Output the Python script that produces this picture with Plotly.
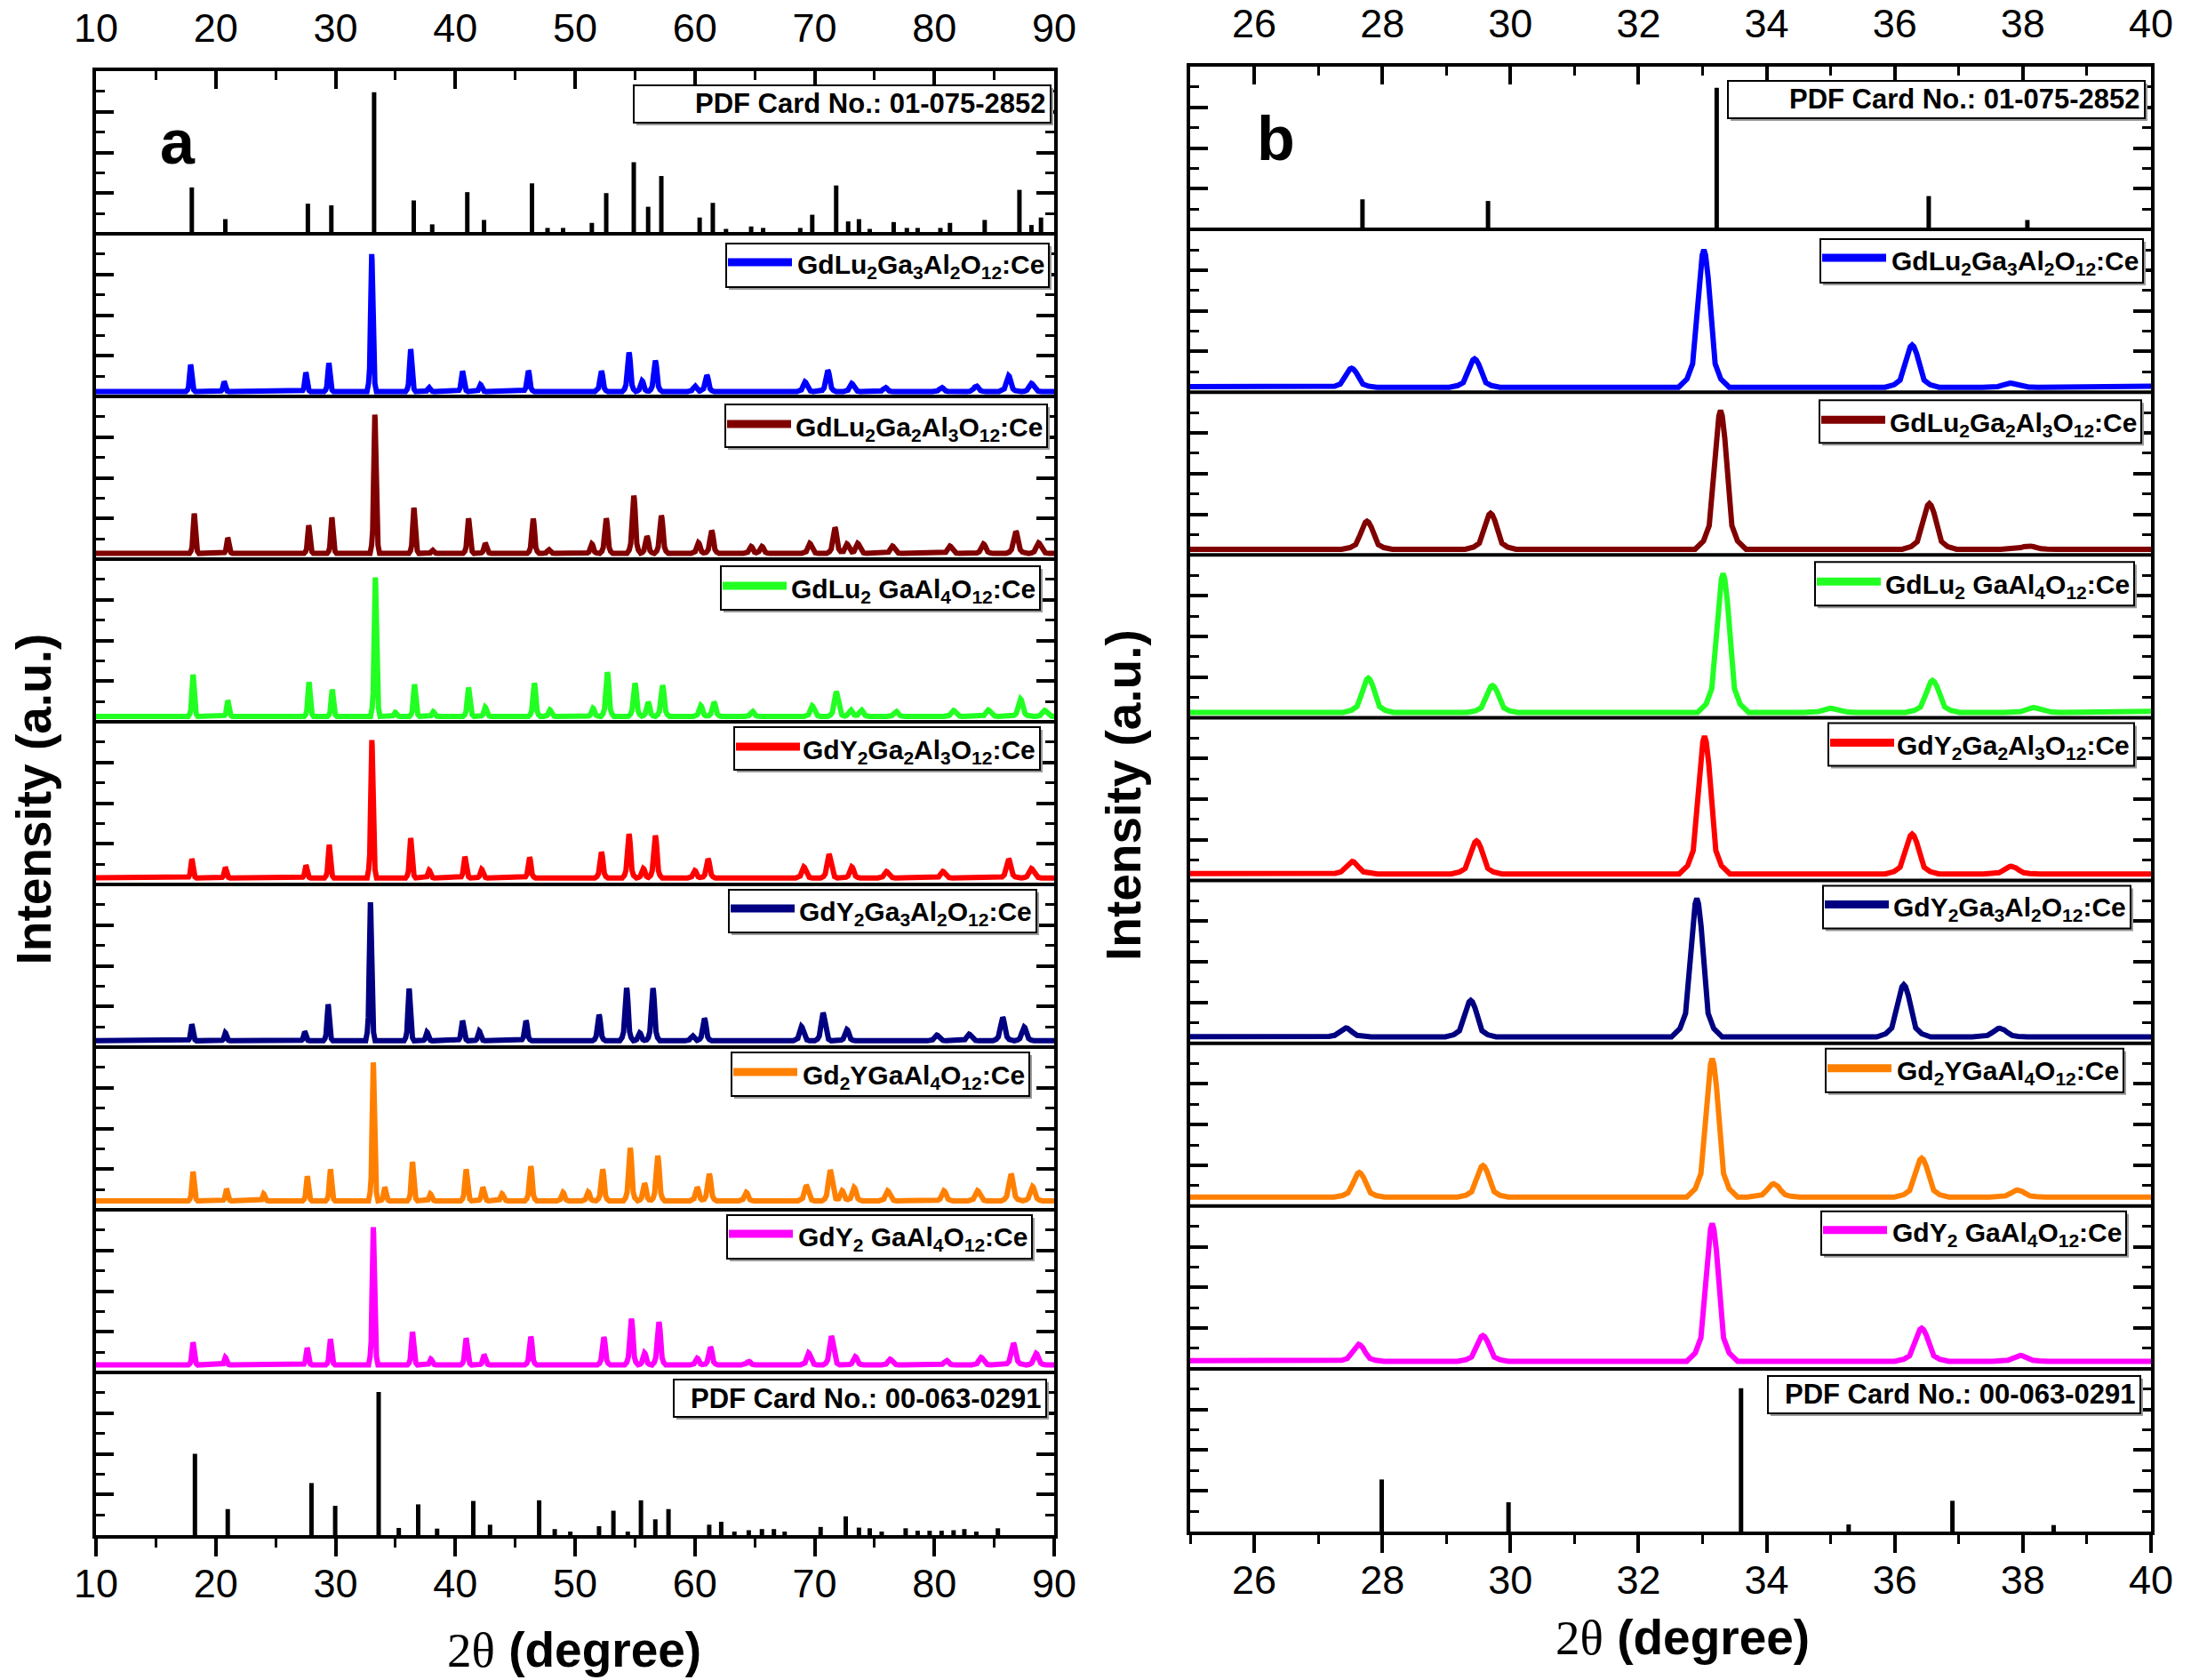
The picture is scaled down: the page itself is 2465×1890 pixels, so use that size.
import numpy as np
import plotly.graph_objects as go

W, H = 2465, 1890
OFF = 8  # the page body adds an 8 px margin; positions below are screen pixels
FONT = "Liberation Sans, Arial, sans-serif"

# ---------------- data ----------------
# PDF card 01-075-2852 (stick pattern): 2theta, relative height (% of sub-panel)
CARD1_POS = [18.0, 20.8, 27.69, 29.65, 33.22, 36.53, 38.07, 41.0, 42.4, 46.4, 47.7, 49.0, 51.4,
             52.6, 54.9, 56.1, 57.2, 60.4, 61.5, 62.6, 64.7, 65.7, 68.8, 69.8, 71.8, 72.8, 73.7,
             74.6, 76.6, 77.7, 78.6, 80.5, 81.3, 84.2, 87.1, 88.1, 88.9]
CARD1_HT = [28.5, 9, 18.5, 17.5, 87, 20.5, 5.8, 25.6, 8.5, 31, 3.6, 3.6, 6.7,
            25, 44, 16.6, 35.5, 10, 19, 3, 4.5, 3.6, 3.6, 11.7, 29.7, 7.6, 9,
            3, 7.2, 3.6, 3.6, 3.6, 6.7, 8.5, 27, 5.4, 10]

# PDF card 00-063-0291
CARD2_POS = [18.26, 21.0, 27.99, 29.97, 33.6, 35.28, 36.9, 38.48, 41.5, 42.9, 47.0, 48.3, 49.6,
             52.0, 53.2, 54.4, 55.5, 56.7, 57.8, 61.2, 62.2, 63.3, 64.5, 65.6, 66.6, 67.5, 70.5,
             72.6, 73.7, 74.6, 75.6, 77.6, 78.6, 79.6, 80.6, 81.6, 82.5, 83.5, 85.3]
CARD2_HT = [50, 16, 32, 18, 88, 4.4, 18.9, 4, 21, 6.4, 21.4, 3.7, 2.2,
            5.5, 15, 2.2, 21.4, 9.7, 16, 6.4, 8.2, 2.2, 3, 3.7, 3.7, 2.2, 5,
            11.5, 4.6, 4.2, 2.2, 4.2, 2.7, 2.7, 2.7, 3, 3.7, 2.2, 4.2]

# measured patterns: peak positions (2theta) and peak tops (% of sub-panel), baseline level
BLUE_POS = [17.9, 20.7, 27.52, 29.44, 33.02, 36.27, 37.8, 40.6, 42.1, 46.1, 52.2, 54.5, 55.6, 56.7,
            60.0, 61.0, 69.2, 71.1, 73.1, 75.9, 80.6, 83.5, 86.2, 88.1]
BLUE_HT = [19.5, 9, 14.7, 20.5, 87.5, 29, 5.5, 15.5, 7.3, 15.8, 15.5, 27, 9.6, 22,
           6.4, 13, 9, 16, 8, 5.5, 5.5, 6.4, 12.7, 8]
BLUE_BASE = 3.0

BROWN_POS = [18.2, 21.0, 27.76, 29.69, 33.28, 36.54, 38.09, 41.1, 42.5, 46.5, 47.8, 51.4, 52.6, 54.9,
             56.0, 57.2, 60.3, 61.4, 64.7, 65.6, 69.6, 71.7, 72.7, 73.6, 76.5, 81.3, 84.1, 86.8, 88.7]
BROWN_HT = [28, 13, 20.7, 25.6, 88.8, 31.6, 5.5, 25, 9.7, 24.8, 5.8, 9.3, 25, 39,
            14, 26.8, 10, 17.5, 7.8, 7.8, 9.7, 19.4, 9.3, 9.7, 8, 8, 9.3, 17, 10]
BROWN_BASE = 3.5

GREEN_POS = [18.1, 21.0, 27.78, 29.72, 33.32, 34.99, 36.59, 38.16, 41.1, 42.5, 46.6, 47.9, 51.5, 52.7,
             55.0, 56.1, 57.3, 60.5, 61.6, 64.8, 69.8, 71.8, 73.0, 73.9, 76.8, 81.6, 84.5, 87.2, 89.2]
GREEN_HT = [29, 13, 24.3, 19.8, 88.7, 5.8, 22.9, 6.2, 21, 9, 23.7, 7.3, 8.3, 30.5,
            23.7, 12, 22.4, 10, 12, 6.4, 9.8, 18.5, 7.3, 7.3, 6.4, 7, 7.3, 14, 7]
GREEN_BASE = 3.3

RED_POS = [18.0, 20.8, 27.53, 29.47, 33.03, 36.27, 37.82, 40.8, 42.2, 46.2, 52.2, 54.5, 55.7, 56.7,
           60.0, 61.1, 69.1, 71.2, 73.1, 76.0, 80.7, 86.2, 88.1]
RED_HT = [15.6, 10.4, 11.7, 24.3, 88.7, 28.5, 8.7, 17, 9.3, 16.6, 19.9, 31, 9.8, 30,
          8.5, 15.6, 10.8, 18.5, 10.8, 8, 8, 15.6, 9.8]
RED_BASE = 4.0

NAVY_POS = [18.0, 20.8, 27.43, 29.38, 32.91, 36.14, 37.64, 40.6, 42.0, 45.9, 52.0, 54.3, 55.4, 56.5,
            59.8, 60.8, 68.9, 70.7, 72.7, 80.2, 82.9, 85.7, 87.5]
NAVY_HT = [13.9, 8.8, 9.4, 26.3, 89, 36, 9.2, 16.2, 9.8, 16.2, 19.8, 36.4, 8.8, 36.2,
           7, 17.6, 12.7, 21, 10.8, 7.4, 8, 18.2, 12.3]
NAVY_BASE = 3.9

ORANGE_POS = [18.1, 20.9, 24.0, 27.64, 29.57, 33.15, 34.11, 36.42, 37.92, 40.9, 42.3, 43.9, 46.3, 49.0,
              51.1, 52.3, 54.6, 55.8, 56.9, 60.2, 61.2, 64.3, 69.3, 71.3, 72.3, 73.3, 76.1, 80.8,
              83.6, 86.4, 88.2]
ORANGE_HT = [23.4, 12.7, 9.8, 20.6, 24.9, 90.6, 13.7, 29.4, 9.8, 24.8, 13.7, 9.8, 26.8, 10.7,
             11, 24.8, 38, 16.2, 33.2, 13.7, 22, 10.7, 15, 24.4, 11.7, 13.7, 11.7, 11.7,
             11.7, 22, 14.3]
ORANGE_BASE = 5.5

MAGENTA_POS = [18.1, 20.8, 27.63, 29.57, 33.15, 36.42, 37.96, 40.9, 42.4, 46.3, 52.4, 54.7, 55.8,
               57.0, 60.2, 61.3, 64.5, 69.5, 71.4, 73.4, 76.3, 81.0, 83.9, 86.6, 88.5]
MAGENTA_HT = [18.4, 9.3, 15, 20.4, 89.3, 24.9, 8.2, 21, 10.7, 22, 21.7, 33, 12,
              31, 8.7, 15.5, 6.8, 12, 22.3, 9.7, 8.2, 7.4, 9.3, 17.9, 11.7]
MAGENTA_BASE = 4.6

# peak shape (offset in FWHM units, fraction of peak height)
PROFILE_DX = [-1.8, -1.2, -0.8, -0.5, -0.3, -0.12, 0.0, 0.12, 0.3, 0.5, 0.8, 1.2, 1.8]
PROFILE_FRAC = [0.0, 0.06, 0.17, 0.5, 0.8, 0.96, 1.0, 0.96, 0.8, 0.5, 0.17, 0.06, 0.0]
FWHM_33 = 0.22          # degrees, at ~33 deg
FWHM_GROWTH = 50.0      # broadening with angle

SAMPLES = [
    ("GdLu<sub>2</sub>Ga<sub>3</sub>Al<sub>2</sub>O<sub>12</sub>:Ce", "#0000FF", BLUE_POS, BLUE_HT, BLUE_BASE),
    ("GdLu<sub>2</sub>Ga<sub>2</sub>Al<sub>3</sub>O<sub>12</sub>:Ce", "#800000", BROWN_POS, BROWN_HT, BROWN_BASE),
    ("GdLu<sub>2</sub> GaAl<sub>4</sub>O<sub>12</sub>:Ce", "#22FF22", GREEN_POS, GREEN_HT, GREEN_BASE),
    ("GdY<sub>2</sub>Ga<sub>2</sub>Al<sub>3</sub>O<sub>12</sub>:Ce", "#FF0000", RED_POS, RED_HT, RED_BASE),
    ("GdY<sub>2</sub>Ga<sub>3</sub>Al<sub>2</sub>O<sub>12</sub>:Ce", "#000080", NAVY_POS, NAVY_HT, NAVY_BASE),
    ("Gd<sub>2</sub>YGaAl<sub>4</sub>O<sub>12</sub>:Ce", "#FF8000", ORANGE_POS, ORANGE_HT, ORANGE_BASE),
    ("GdY<sub>2</sub> GaAl<sub>4</sub>O<sub>12</sub>:Ce", "#FF00FF", MAGENTA_POS, MAGENTA_HT, MAGENTA_BASE),
]
CARD1_LABEL = "PDF Card No.: 01-075-2852"
CARD2_LABEL = "PDF Card No.: 00-063-0291"

# ---------------- layout geometry (screen pixels) ----------------
PANELS = [
    dict(L=108, R=1186, T=80, B=1727, xr=[10, 90], dt=10, mdt=5, label="a", lab_xy=(200, 160),
         ytitle_x=37, xtitle_x=646, xtitle_y=1856),
    dict(L=1339, R=2420, T=75, B=1723, xr=[25, 40], dt=2, mdt=1, label="b", lab_xy=(1435, 156),
         ytitle_x=1264, xtitle_x=1893, xtitle_y=1842),
]
# legend boxes relative to (panel left, row top): x0, x1, y0, y1, line y
BOX_CARD1 = (605, 1074, 16, 58)
BOX_CARD2 = (650, 1069, 8, 50)
BOX_SAMPLES = [(709, 1072, 11, 60, 32), (708, 1070, 9, 57, 31), (703, 1062, 8, 57, 30),
               (718, 1062, 6, 54, 28), (712, 1058, 6, 54, 27), (715, 1050, 6, 55, 28),
               (710, 1053, 6, 55, 27)]
LINE_LEN = 72


def fx(p):
    return (p - OFF) / W


def fy(p):
    return 1 - (p - OFF) / H


def curve(pos, ht, base, xr):
    pos = np.asarray(pos, float)
    ht = np.asarray(ht, float)
    xs = [xr[0] - 1]
    for p in pos:
        w = FWHM_33 * (1 + max(p - 33, 0) / FWHM_GROWTH)
        xs.extend(p + np.asarray(PROFILE_DX) * w)
    xs.append(xr[1] + 1)
    xs = np.sort(np.asarray(xs))
    ys = np.full_like(xs, base)
    for p, h in zip(pos, ht):
        w = FWHM_33 * (1 + max(p - 33, 0) / FWHM_GROWTH)
        ys += (h - base) * np.interp((xs - p) / w, PROFILE_DX, PROFILE_FRAC, left=0, right=0)
    return xs, ys


def sticks(pos, ht):
    xs, ys = [], []
    for p, h in zip(pos, ht):
        xs += [p, p, None]
        ys += [0, h, None]
    return xs, ys


fig = go.Figure()
layout = dict(width=W, height=H, margin=dict(l=0, r=0, t=0, b=0, autoexpand=False),
              paper_bgcolor="white", plot_bgcolor="rgba(0,0,0,0)", showlegend=False,
              hovermode=False, font=dict(family=FONT, color="black"))
shapes, annotations = [], []

for pi, P in enumerate(PANELS):
    L, R, T, B = P["L"], P["R"], P["T"], P["B"]
    rh = (B - T) / 9.0
    xb = "x" if pi == 0 else "x3"
    xbkey = "xaxis" if pi == 0 else "xaxis3"
    xtkey = "xaxis2" if pi == 0 else "xaxis4"
    yidx0 = 1 + 9 * pi

    for r in range(9):
        yi = yidx0 + r
        ykey = "yaxis" if yi == 1 else f"yaxis{yi}"
        yref = "y" if yi == 1 else f"y{yi}"
        top = T + r * rh
        bot = T + (r + 1) * rh
        layout[ykey] = dict(domain=[fy(bot), fy(top)], anchor=xb, range=[0, 100], fixedrange=True,
                            showline=True, linewidth=4, linecolor="black", mirror="ticks",
                            ticks="inside", ticklen=20, tickwidth=4, tickcolor="black",
                            tick0=0, dtick=25, showticklabels=False, showgrid=False, zeroline=False,
                            minor=dict(ticks="inside", ticklen=10, tickwidth=3, tickcolor="black",
                                       dtick=12.5, tick0=0, showgrid=False))
        if r == 0:
            xs, ys = sticks(CARD1_POS, CARD1_HT)
            fig.add_trace(go.Scatter(x=xs, y=ys, mode="lines", xaxis=xb, yaxis=yref,
                                     line=dict(color="black", width=5)))
        elif r == 8:
            xs, ys = sticks(CARD2_POS, CARD2_HT)
            fig.add_trace(go.Scatter(x=xs, y=ys, mode="lines", xaxis=xb, yaxis=yref,
                                     line=dict(color="black", width=5)))
        else:
            name, col, pos, ht, base = SAMPLES[r - 1]
            xs, ys = curve(pos, ht, base, P["xr"])
            fig.add_trace(go.Scatter(x=xs, y=ys, mode="lines", xaxis=xb, yaxis=yref,
                                     line=dict(color=col, width=6)))

        # internal boundary line
        if r > 0:
            shapes.append(dict(type="line", xref="paper", yref="paper", x0=fx(L), x1=fx(R),
                               y0=fy(top), y1=fy(top), line=dict(color="black", width=4),
                               layer="above"))
        # legend boxes
        if r == 0 or r == 8:
            bx0, bx1, by0, by1 = BOX_CARD1 if r == 0 else BOX_CARD2
            lab = CARD1_LABEL if r == 0 else CARD2_LABEL
        else:
            bx0, bx1, by0, by1, ly = BOX_SAMPLES[r - 1]
            lab = SAMPLES[r - 1][0]
        shapes.append(dict(type="rect", xref="paper", yref="paper",
                           x0=fx(L + bx0 + 3), x1=fx(L + bx1 + 3), y0=fy(top + by1 + 3), y1=fy(top + by0 + 3),
                           fillcolor="#9a9a9a", line=dict(width=0), layer="above"))
        shapes.append(dict(type="rect", xref="paper", yref="paper",
                           x0=fx(L + bx0), x1=fx(L + bx1), y0=fy(top + by1), y1=fy(top + by0),
                           fillcolor="white", line=dict(color="black", width=2), layer="above"))
        if r in (0, 8):
            annotations.append(dict(x=fx(L + bx1 - 3), y=fy(top + (by0 + by1) / 2), xref="paper", yref="paper",
                                    text="<b>" + lab + "</b>", showarrow=False, xanchor="right",
                                    yanchor="middle", font=dict(size=31, family=FONT, color="black")))
        else:
            col = SAMPLES[r - 1][1]
            shapes.append(dict(type="line", xref="paper", yref="paper", x0=fx(L + bx0 + 2),
                               x1=fx(L + bx0 + 2 + LINE_LEN), y0=fy(top + ly), y1=fy(top + ly),
                               line=dict(color=col, width=9), layer="above"))
            annotations.append(dict(x=fx(L + bx1 - 3), y=fy(top + ly + 5), xref="paper", yref="paper",
                                    text="<b>" + lab + "</b>", showarrow=False, xanchor="right",
                                    yanchor="middle", font=dict(size=30, family=FONT, color="black")))

    common_x = dict(domain=[fx(L), fx(R)], range=P["xr"], fixedrange=True, showline=True,
                    linewidth=4, linecolor="black", tick0=0, dtick=P["dt"], tickcolor="black",
                    tickwidth=4, ticklen=20, showgrid=False, zeroline=False,
                    tickfont=dict(size=45, family=FONT, color="black"))
    layout[xbkey] = dict(common_x, anchor=("y9" if pi == 0 else "y18"), side="bottom", ticks="outside",
                         ticklabelstandoff=-8,
                         minor=dict(ticks="outside", ticklen=10, tickwidth=3, tickcolor="black",
                                    dtick=P["mdt"], tick0=0, showgrid=False))
    layout[xtkey] = dict(common_x, anchor=("y" if pi == 0 else "y10"), side="top", ticks="inside",
                         overlaying=xb, ticklabelstandoff=11,
                         minor=dict(ticks="inside", ticklen=10, tickwidth=3, tickcolor="black",
                                    dtick=P["mdt"], tick0=0, showgrid=False))

    # texts
    annotations.append(dict(x=fx(P["lab_xy"][0]), y=fy(P["lab_xy"][1]), xref="paper", yref="paper",
                            text="<b>" + P["label"] + "</b>", showarrow=False, xanchor="center",
                            yanchor="middle", font=dict(size=70, family=FONT, color="black")))
    annotations.append(dict(x=fx(P["ytitle_x"]), y=fy((T + B) / 2 - 4), xref="paper", yref="paper",
                            text="<b>Intensity (a.u.)</b>", textangle=-90, showarrow=False,
                            xanchor="center", yanchor="middle",
                            font=dict(size=55, family=FONT, color="black")))
    annotations.append(dict(x=fx(P["xtitle_x"]), y=fy(P["xtitle_y"]), xref="paper", yref="paper",
                            text="<span style='font-family:Liberation Serif, Times New Roman, serif'>2θ</span> <b>(degree)</b>",
                            showarrow=False, xanchor="center", yanchor="middle",
                            font=dict(size=55, family=FONT, color="black")))

# empty traces so the top axes are drawn
fig.add_trace(go.Scatter(x=[None], y=[None], xaxis="x2", yaxis="y", showlegend=False))
fig.add_trace(go.Scatter(x=[None], y=[None], xaxis="x4", yaxis="y10", showlegend=False))

layout["shapes"] = shapes
layout["annotations"] = annotations
fig.update_layout(**layout)
fig.write_html("out.html")
